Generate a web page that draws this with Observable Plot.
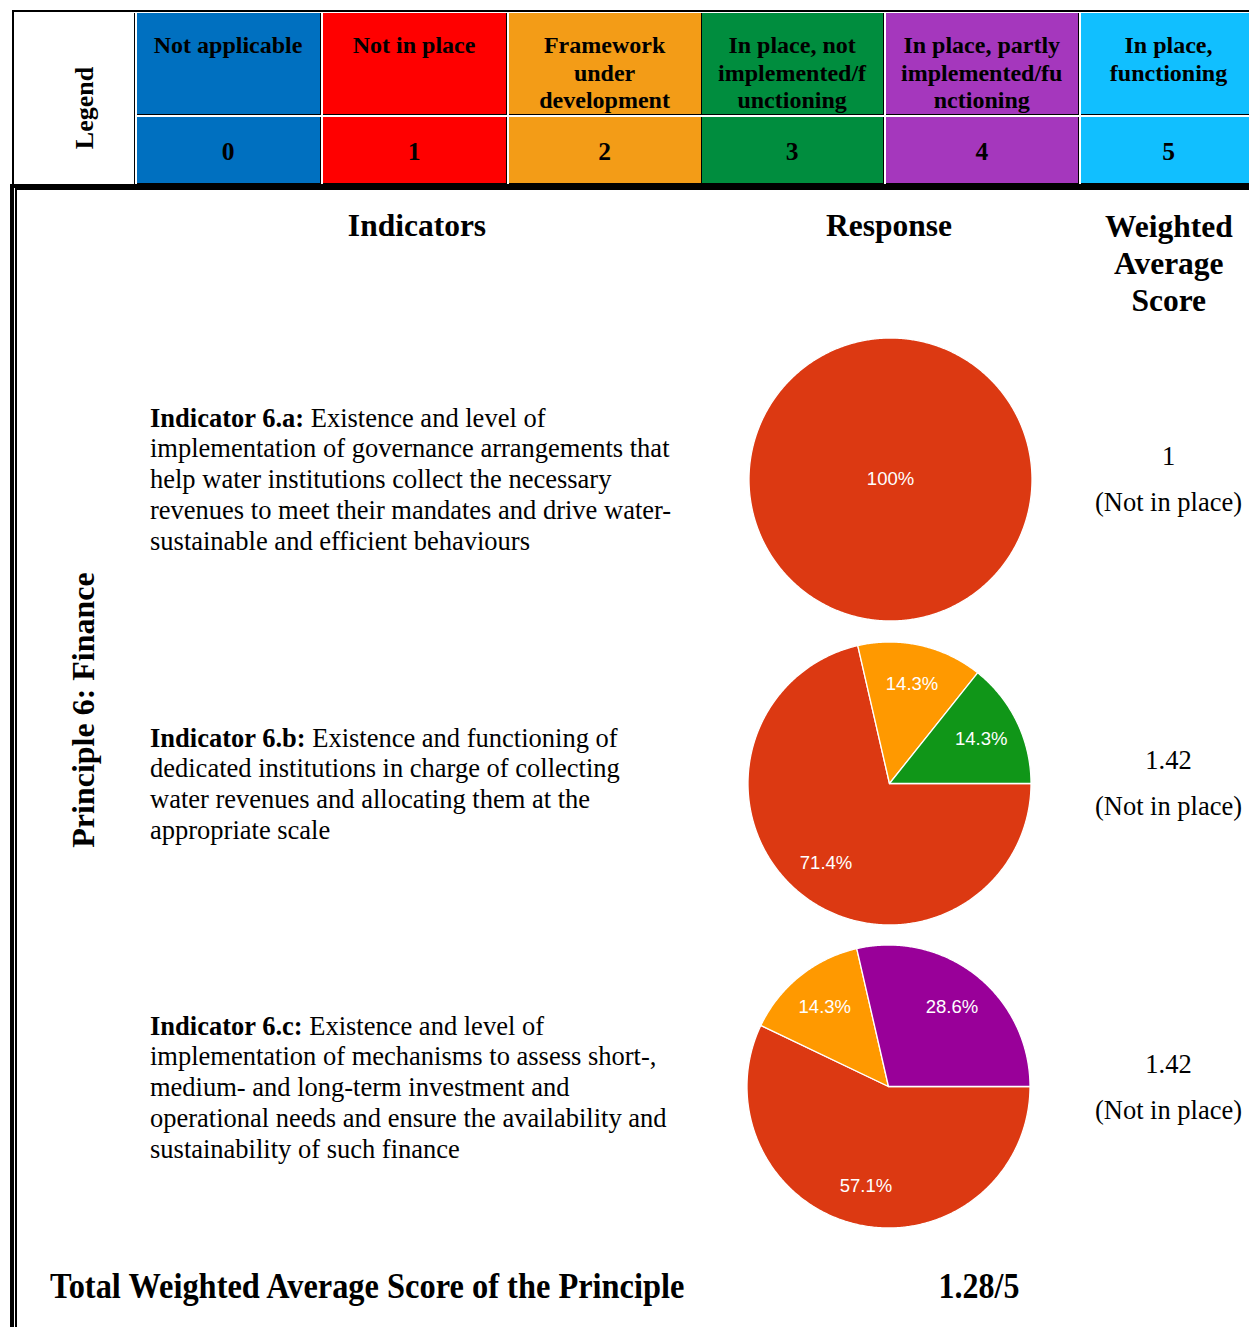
<!DOCTYPE html>
<html>
<head>
<meta charset="utf-8">
<script src="https://cdn.jsdelivr.net/npm/d3@7"></script>
<script src="https://cdn.jsdelivr.net/npm/@observablehq/plot@0.6"></script>
<style>
  html, body { margin: 0; padding: 0; background: #fff; }
  #root { position: relative; width: 1249px; height: 1327px; overflow: hidden; background: #fff; color: #000; }
  .abs { position: absolute; box-sizing: border-box; }
</style>
</head>
<body>
<div id="root"></div>
<script>
// ---------------- DATA ----------------
const legendCategories = ["Not applicable", "Not in place", "Framework under development",
  "In place, not implemented/functioning", "In place, partly implemented/functioning", "In place, functioning"];
const legendLines = [["Not applicable"], ["Not in place"], ["Framework", "under", "development"],
  ["In place, not", "implemented/f", "unctioning"], ["In place, partly", "implemented/fu", "nctioning"],
  ["In place,", "functioning"]];
const legendScores = ["0", "1", "2", "3", "4", "5"];
const legendColors = ["#0070c0", "#ff0000", "#f39c17", "#008d3e", "#a537bd", "#11bfff"];

const pieCategories = ["Not in place", "Framework under development",
  "In place, not implemented/functioning", "In place, partly implemented/functioning"];
const pieColors = ["#dc3912", "#ff9900", "#109618", "#990099"];

const indicatorIds = ["6.a", "6.b", "6.c"];
const indicatorTexts = [
  ["Existence and level of", "implementation of governance arrangements that", "help water institutions collect the necessary",
   "revenues to meet their mandates and drive water-", "sustainable and efficient behaviours"],
  ["Existence and functioning of", "dedicated institutions in charge of collecting", "water revenues and allocating them at the",
   "appropriate scale"],
  ["Existence and level of", "implementation of mechanisms to assess short-,", "medium- and long-term investment and",
   "operational needs and ensure the availability and", "sustainability of such finance"]
];
const pie6aCats = ["Not in place"];
const pie6aVals = [100];
const pie6aLabels = ["100%"];
const pie6bCats = ["Not in place", "Framework under development", "In place, not implemented/functioning"];
const pie6bVals = [71.4, 14.3, 14.3];
const pie6bLabels = ["71.4%", "14.3%", "14.3%"];
const pie6cCats = ["Not in place", "Framework under development", "In place, partly implemented/functioning"];
const pie6cVals = [57.1, 14.3, 28.6];
const pie6cLabels = ["57.1%", "14.3%", "28.6%"];

const scoreValues = ["1", "1.42", "1.42"];
const scoreLabels = ["(Not in place)", "(Not in place)", "(Not in place)"];
const principleTitle = "Principle 6: Finance";
const totalLabel = "Total Weighted Average Score of the Principle";
const totalValue = "1.28/5";

// ---------------- LAYOUT HELPERS ----------------
const root = document.getElementById("root");
const SERIF = "'Liberation Serif','Times New Roman',serif";

function box(left, top, width, height, css) {
  const d = document.createElement("div");
  d.className = "abs";
  d.style.cssText += `left:${left}px;top:${top}px;width:${width}px;height:${height}px;` + (css || "");
  root.appendChild(d);
  return d;
}

// place text lines so that first baseline sits at `baseline`
function text(lines, { x, baseline, size, weight = "normal", lh, align = "center", css = "", tf = "" }) {
  const A = 0.891, D = 0.216;
  const L = lh || Math.round(size * 1.15);
  const off = (L - (A + D) * size) / 2 + A * size;
  const d = document.createElement("div");
  d.style.cssText = `position:absolute;top:${baseline - off}px;font:${weight} ${size}px/${L}px ${SERIF};white-space:nowrap;` +
    (align === "center" ? `left:${x}px;transform:translateX(-50%) ${tf};text-align:center;` : `left:${x}px;text-align:left;` + (tf ? `transform:${tf};` : "")) + css;
  d.innerHTML = lines.join("<br>");
  root.appendChild(d);
  return d;
}

function vtext(str, { cx, cy, size, weight = "bold" }) {
  const d = document.createElement("div");
  d.style.cssText = `position:absolute;left:${cx}px;top:${cy}px;font:${weight} ${size}px/${Math.round(size * 1.2)}px ${SERIF};` +
    `white-space:nowrap;transform:translate(-50%,-50%) rotate(-90deg);`;
  d.textContent = str;
  root.appendChild(d);
}

// ---------------- LEGEND TABLE ----------------
box(12, 10, 1300, 177, "border:2.7px solid #000;background:#fff;");
const colL = [137, 322.7, 509.3, 701.7, 886, 1081];
const colR = [321, 507.3, 701.7, 884.3, 1079.3, 1300];
const row1Top = 13.3, row1Bot = 115, row2Top = 116.6, row2Bot = 184.5;
box(14.7, row1Top, 120.3, row2Bot - row1Top, "background:#fff;border-right:1.8px solid #000;");
vtext("Legend", { cx: 83.5, cy: 107.5, size: 26 });
legendCategories.forEach((c, i) => {
  box(colL[i], row1Top, colR[i] - colL[i], row1Bot - row1Top,
    `background:${legendColors[i]};border-right:1.8px solid #000;border-bottom:1.8px solid #000;`);
  box(colL[i], row2Top, colR[i] - colL[i], row2Bot - row2Top,
    `background:${legendColors[i]};border-right:1.8px solid #000;border-bottom:1.8px solid #000;`);
  const cx = i === 5 ? 1168.5 : (colL[i] + colR[i] - 1.8) / 2;
  text(legendLines[i], { x: cx, baseline: 54, size: 24, weight: "bold", lh: 27.5 });
  text([legendScores[i]], { x: cx, baseline: 160, size: 25.5, weight: "bold" });
});

// ---------------- MAIN TABLE FRAME ----------------
box(10, 184, 1300, 1300, "border:4px solid #000;");
box(15.3, 188.3, 1300, 1300, "border:2px solid #000;");

text(["Indicators"], { x: 417, baseline: 237, size: 31.5, weight: "bold" });
text(["Response"], { x: 889, baseline: 237, size: 31.5, weight: "bold" });
text(["Weighted", "Average", "Score"], { x: 1168.8, baseline: 237, size: 31.5, weight: "bold", lh: 37 });

vtext(principleTitle, { cx: 83, cy: 710, size: 32 });

const firstBaselines = [427, 747, 1035];
indicatorIds.forEach((id, i) => {
  const lines = indicatorTexts[i].slice();
  lines[0] = `<b>Indicator ${id}:</b> ` + lines[0];
  text(lines, { x: 150, baseline: firstBaselines[i], size: 26.5, lh: 30.7, align: "left" });
});

const scoreBaselines = [465, 769, 1073];
scoreValues.forEach((v, i) => {
  text([v], { x: 1168.5, baseline: scoreBaselines[i], size: 26.5 });
  text([scoreLabels[i]], { x: 1168.5, baseline: scoreBaselines[i] + 46, size: 26.5 });
});

text([totalLabel], { x: 50, baseline: 1298, size: 32, weight: "bold", align: "left",
  css: "transform-origin:0 75%;", tf: "scale(1.013,1.13)" });
text([totalValue], { x: 979, baseline: 1298, size: 32, weight: "bold", css: "transform-origin:50% 75%;", tf: "scaleY(1.13)" });

// ---------------- PIES (Observable Plot) ----------------
function pieChart(cats, vals, labels) {
  const total = d3.sum(vals);
  let a = 90; // first slice starts at 3 o'clock, clockwise
  const pts = [], labs = [];
  cats.forEach((c, i) => {
    const span = vals[i] / total * 360;
    const a0 = a;
    if (span < 359.9) pts.push({ cat: c, x: 0, y: 0 });
    const n = Math.max(2, Math.ceil(span * 2));
    for (let k = 0; k <= n; k++) {
      const t = (a0 + span * k / n) * Math.PI / 180;
      pts.push({ cat: c, x: Math.sin(t), y: Math.cos(t) });
    }
    const m = (a0 + span / 2) * Math.PI / 180;
    const rr = span < 359.9 ? 0.72 : 0;
    labs.push({ x: rr * Math.sin(m), y: rr * Math.cos(m), text: labels[i] });
    a += span;
  });
  return Plot.plot({
    width: 290, height: 290, margin: 3.5,
    x: { domain: [-1, 1], axis: null },
    y: { domain: [-1, 1], axis: null },
    color: { domain: pieCategories, range: pieColors },
    style: { background: "transparent", fontFamily: "'Liberation Sans', Arial, sans-serif", overflow: "visible" },
    marks: [
      Plot.line(pts, { x: "x", y: "y", z: "cat", fill: "cat", stroke: "#ffffff", strokeWidth: 1.3, curve: "linear-closed" }),
      Plot.text(labs, { x: "x", y: "y", text: "text", fill: "#ffffff", fontSize: 18.5 })
    ]
  });
}

const pies = [
  [pie6aCats, pie6aVals, pie6aLabels, 890, 479],
  [pie6bCats, pie6bVals, pie6bLabels, 888.5, 782.5],
  [pie6cCats, pie6cVals, pie6cLabels, 888, 1085.5]
];
pies.forEach(([c, v, l, cx, cy]) => {
  const holder = box(cx - 145, cy - 145, 290, 290, "");
  holder.appendChild(pieChart(c, v, l));
});
</script>
</body>
</html>
